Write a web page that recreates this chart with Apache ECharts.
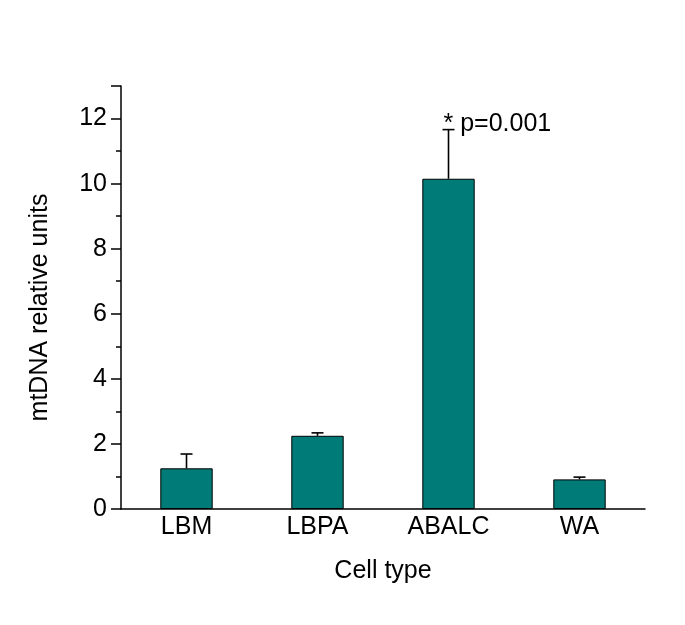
<!DOCTYPE html>
<html>
<head>
<meta charset="utf-8">
<script src="https://cdn.jsdelivr.net/npm/echarts@6/dist/echarts.min.js"></script>
<style>
html,body{margin:0;padding:0;background:#fff;}
#chart{width:685px;height:625px;}
</style>
</head>
<body>
<div id="chart"></div>
<script>
var categories = ['LBM', 'LBPA', 'ABALC', 'WA'];
var means = [1.25, 2.25, 10.15, 0.91];
var errors = [0.44, 0.09, 1.51, 0.07];
var annotations = ['', '', '* p=0.001', ''];
var yTickValues = [0, 2, 4, 6, 8, 10, 12];

var FONT = '"Liberation Sans", Arial, sans-serif';
var FS = 25;
var chart = echarts.init(document.getElementById('chart'));

var errData = categories.map(function (c, i) { return [i, means[i], errors[i]]; });

var option = {
  backgroundColor: '#ffffff',
  animation: false,
  grid: { left: 121, right: 40, top: 86, bottom: 116 },
  xAxis: {
    type: 'category',
    data: categories,
    axisLine: { show: true, lineStyle: { color: '#000', width: 1.5 } },
    axisTick: { show: false },
    axisLabel: { color: '#000', fontSize: FS, fontFamily: FONT, margin: 6 },
    name: 'Cell type',
    nameLocation: 'middle',
    nameGap: 50,
    nameTextStyle: { color: '#000', fontSize: FS, fontFamily: FONT }
  },
  yAxis: [
    {
      type: 'value', min: 0, max: 13, interval: 1, position: 'left',
      axisLine: { show: true, lineStyle: { color: '#000', width: 1.5 } },
      axisTick: { show: true, length: 5, inside: false, lineStyle: { color: '#000', width: 1.5 } },
      axisLabel: { show: false },
      splitLine: { show: false }
    },
    {
      type: 'value', min: 0, max: 13, interval: 2, position: 'left',
      axisLine: { show: false },
      axisTick: { show: true, length: 10, inside: false, lineStyle: { color: '#000', width: 1.5 } },
      axisLabel: {
        color: '#000', fontSize: FS, fontFamily: FONT, margin: 14,
        formatter: function (v) { return yTickValues.indexOf(v) >= 0 ? String(v) : ''; }
      },
      splitLine: { show: false },
      name: 'mtDNA relative units',
      nameLocation: 'middle',
      nameGap: 68,
      nameTextStyle: { color: '#000', fontSize: FS, fontFamily: FONT, padding: [0, 20, 0, 0] }
    }
  ],
  series: [
    {
      type: 'bar',
      data: means,
      barWidth: '40%',
      yAxisIndex: 0,
      itemStyle: { color: '#007B77', borderColor: '#000', borderWidth: 1 },
      z: 2
    },
    {
      type: 'custom',
      yAxisIndex: 0,
      data: errData,
      z: 3,
      renderItem: function (params, api) {
        var i = api.value(0);
        var m = api.value(1);
        var e = api.value(2);
        var label = annotations[params.dataIndex];
        var p0 = api.coord([i, m]);
        var p1 = api.coord([i, m + e]);
        var hw = 6;
        var children = [
          { type: 'line', shape: { x1: p0[0], y1: p0[1], x2: p1[0], y2: p1[1] }, style: { stroke: '#000', lineWidth: 1.6 } },
          { type: 'line', shape: { x1: p1[0] - hw, y1: p1[1], x2: p1[0] + hw, y2: p1[1] }, style: { stroke: '#000', lineWidth: 1.6 } }
        ];
        if (label) {
          children.push({
            type: 'text',
            x: p1[0] - 5, y: p1[1] - 5,
            style: { text: label, fill: '#000', fontSize: FS, fontFamily: FONT, textAlign: 'left', textVerticalAlign: 'middle' }
          });
        }
        return { type: 'group', children: children };
      }
    }
  ]
};
chart.setOption(option);
</script>
</body>
</html>
